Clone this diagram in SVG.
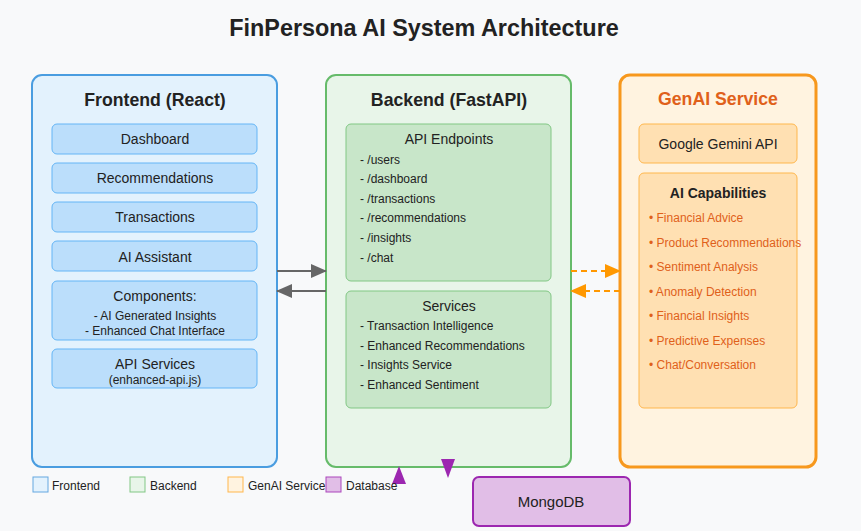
<svg xmlns="http://www.w3.org/2000/svg" width="861" height="531" viewBox="0 0 861 531">
<defs>
<style>
text{font-family:"Liberation Sans",Arial,sans-serif;fill:#222}
.title{font-size:23.4px;font-weight:bold;text-anchor:middle}
.h{font-size:17.7px;font-weight:bold;text-anchor:middle}
.c{text-anchor:middle;font-size:14px}
.s{font-size:12px}
.sc{font-size:12px;text-anchor:middle}
.fe{fill:#e3f2fd;stroke:#4a9de0;stroke-width:2}
.fei{fill:#bbdefb;stroke:#64b5f6;stroke-width:1}
.be{fill:#e8f5e9;stroke:#66bb6a;stroke-width:2}
.bei{fill:#c8e6c9;stroke:#81c784;stroke-width:1}
.ge{fill:#fff3e0;stroke:#f7981d;stroke-width:3}
.gei{fill:#ffe0b2;stroke:#ffb74d;stroke-width:1}
.db{fill:#e1bee7;stroke:#9c27b0;stroke-width:2}
.o{fill:#e0601a;font-size:12px}
.lg{font-size:12px}
</style>
<marker id="ag" markerWidth="16" markerHeight="14" refX="15" refY="7" orient="auto" markerUnits="userSpaceOnUse"><path d="M0,0 L16,7 L0,14Z" fill="#666"/></marker>
<marker id="ao" markerWidth="16" markerHeight="14" refX="15" refY="7" orient="auto" markerUnits="userSpaceOnUse"><path d="M0,0 L16,7 L0,14Z" fill="#ff9800"/></marker>
</defs>
<rect width="861" height="531" fill="#f8f9fa"/>
<text class="title" x="424" y="36">FinPersona AI System Architecture</text>

<g id="frontend">
<rect class="fe" x="32" y="75" width="245" height="392" rx="10"/>
<text class="h" x="155" y="106">Frontend (React)</text>
<rect class="fei" x="52" y="124" width="205" height="30" rx="5"/>
<text class="c" x="155" y="144">Dashboard</text>
<rect class="fei" x="52" y="163" width="205" height="30" rx="5"/>
<text class="c" x="155" y="183">Recommendations</text>
<rect class="fei" x="52" y="202" width="205" height="30" rx="5"/>
<text class="c" x="155" y="222">Transactions</text>
<rect class="fei" x="52" y="241" width="205" height="30" rx="5"/>
<text class="c" x="155" y="262">AI Assistant</text>
<rect class="fei" x="52" y="281" width="205" height="59" rx="5"/>
<text class="c" x="155" y="301">Components:</text>
<text class="sc" x="155" y="320">- AI Generated Insights</text>
<text class="sc" x="155" y="335">- Enhanced Chat Interface</text>
<rect class="fei" x="52" y="349" width="205" height="39" rx="5"/>
<text class="c" x="155" y="369">API Services</text>
<text class="sc" x="155" y="384">(enhanced-api.js)</text>
</g>

<g id="backend">
<rect class="be" x="326" y="75" width="245" height="392" rx="10"/>
<text class="h" x="449" y="106">Backend (FastAPI)</text>
<rect class="bei" x="346" y="124" width="205" height="157" rx="5"/>
<text class="c" x="449" y="144">API Endpoints</text>
<text class="s" x="360" y="164">- /users</text>
<text class="s" x="360" y="183">- /dashboard</text>
<text class="s" x="360" y="203">- /transactions</text>
<text class="s" x="360" y="222">- /recommendations</text>
<text class="s" x="360" y="242">- /insights</text>
<text class="s" x="360" y="262">- /chat</text>
<rect class="bei" x="346" y="291" width="205" height="117" rx="5"/>
<text class="c" x="449" y="311">Services</text>
<text class="s" x="360" y="330">- Transaction Intelligence</text>
<text class="s" x="360" y="350">- Enhanced Recommendations</text>
<text class="s" x="360" y="369">- Insights Service</text>
<text class="s" x="360" y="389">- Enhanced Sentiment</text>
</g>

<g id="genai">
<rect class="ge" x="620" y="75" width="196" height="392" rx="10"/>
<text class="h" x="718" y="105" style="fill:#e0601a">GenAI Service</text>
<rect class="gei" x="639" y="124" width="158" height="39" rx="5"/>
<text class="c" x="718" y="149">Google Gemini API</text>
<rect class="gei" x="639" y="173" width="158" height="235" rx="5"/>
<text x="718" y="198" style="font-size:14px;font-weight:bold;text-anchor:middle">AI Capabilities</text>
<text class="o" x="649" y="222">• Financial Advice</text>
<text class="o" x="649" y="247">• Product Recommendations</text>
<text class="o" x="649" y="271">• Sentiment Analysis</text>
<text class="o" x="649" y="296">• Anomaly Detection</text>
<text class="o" x="649" y="320">• Financial Insights</text>
<text class="o" x="649" y="345">• Predictive Expenses</text>
<text class="o" x="649" y="369">• Chat/Conversation</text>
</g>

<g id="database">
<rect class="db" x="473" y="477" width="157" height="49" rx="6"/>
<text class="c" x="551" y="507" style="font-size:15px">MongoDB</text>
</g>

<g id="connectors">
<line x1="277" y1="271" x2="326" y2="271" stroke="#666" stroke-width="2" marker-end="url(#ag)"/>
<line x1="326" y1="291" x2="277" y2="291" stroke="#666" stroke-width="2" marker-end="url(#ag)"/>
<line x1="571" y1="271" x2="620" y2="271" stroke="#ff9800" stroke-width="2" stroke-dasharray="6,4" marker-end="url(#ao)"/>
<line x1="620" y1="291" x2="571" y2="291" stroke="#ff9800" stroke-width="2" stroke-dasharray="6,4" marker-end="url(#ao)"/>
<path d="M399,466 L406,484 L392,484Z" fill="#9c27b0"/>
<path d="M448,478 L441,459 L455,459Z" fill="#9c27b0"/>
</g>

<g id="legend">
<rect x="33" y="477" width="15" height="15" fill="#e3f2fd" stroke="#64a8e0"/>
<text class="lg" x="52" y="490">Frontend</text>
<rect x="130" y="477" width="15" height="15" fill="#e8f5e9" stroke="#81c784"/>
<text class="lg" x="150" y="490">Backend</text>
<rect x="228" y="477" width="15" height="15" fill="#fff3e0" stroke="#ffb74d"/>
<text class="lg" x="248" y="490">GenAI Service</text>
<rect x="326" y="477" width="15" height="15" fill="#e1bee7" stroke="#ab47bc"/>
<text class="lg" x="346" y="490">Database</text>
</g>
</svg>
